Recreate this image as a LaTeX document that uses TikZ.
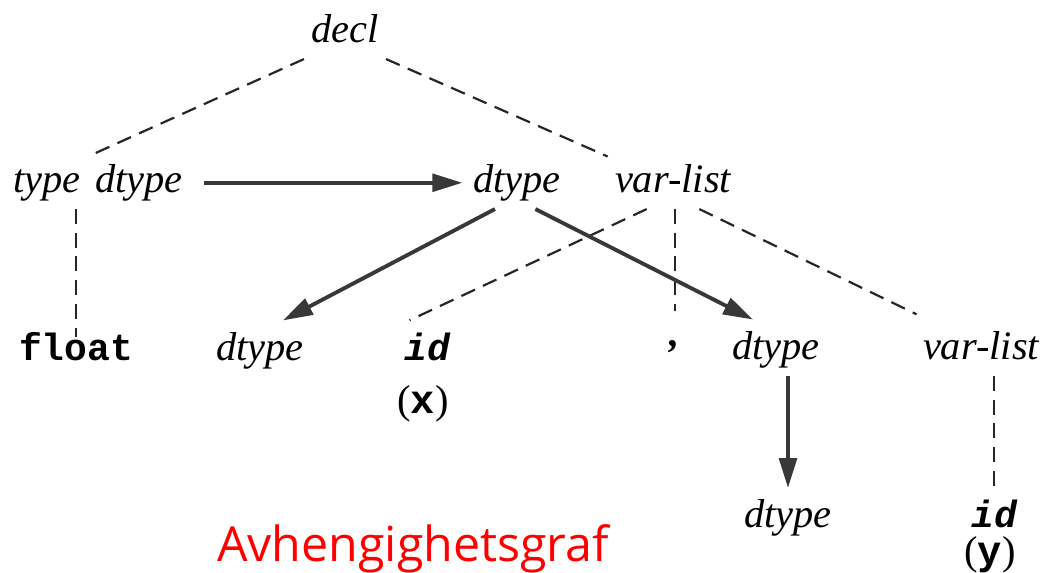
\documentclass[tikz,border=0pt]{standalone}
\usepackage{fontspec}
\setmainfont{Liberation Serif}
\setmonofont{Liberation Mono}
\newfontfamily\labelfont{Open Sans}
\usetikzlibrary{arrows.meta}

\tikzset{
  sym/.style={font=\fontsize{23}{28}\selectfont\itshape, text height=16pt, text depth=5.5pt, inner sep=4pt, anchor=base},
  tok/.style={font=\fontsize{21.6}{26}\selectfont\ttfamily\bfseries, text height=15pt, text depth=5pt, inner sep=4pt, anchor=base},
  val/.style={font=\fontsize{23}{28}\selectfont, inner sep=2pt, anchor=base},
  tree/.style={line width=1.25pt, dash pattern=on 8.5pt off 5pt, black!85},
  dep/.style={line width=2.2pt, black!78, -{Triangle[length=17pt,width=10pt]}}
}

\begin{document}
\begin{tikzpicture}[x=0.02cm,y=-0.02cm]
  \useasboundingbox (0,0) rectangle (1048,572);

  % parse tree
  \node[sym] (decl) at (345,42) {decl};
  \node[sym] (type) at (47,192) {type};
  \node[sym] (dt0) at (139,192) {dtype};
  \node[sym] (dt1) at (517,192) {dtype};
  \node[sym] (vl1) at (673,192) {var-list};
  \node[tok] (float) at (76,360) {float};
  \node[sym] (dt2) at (260,360) {dtype};
  \node[tok] (id1) at (427,360) {\itshape id};
  \node[val] (xval) at (423,413) {({\ttfamily\bfseries x})};
  \node[sym, font=\fontsize{23}{28}\selectfont\itshape\bfseries] (comma) at (675,346) {,};
  \node[sym] (dt3) at (776,359) {dtype};
  \node[sym] (vl2) at (981,359) {var-list};
  \node[sym] (dt4) at (788,527) {dtype};
  \node[tok] (id2) at (994,527) {\itshape id};
  \node[val] (yval) at (990,564) {({\ttfamily\bfseries y})};

  \node[font=\labelfont\fontsize{27.5}{32}\selectfont, text=red, anchor=base] (title) at (413,561) {Avhengighetsgraf};

  % tree edges
  \draw[tree] (decl.south west) -- (dt0.north west);
  \draw[tree] (decl.south east) -- (vl1.north west);
  \draw[tree, shorten >=-6pt] (float.north |- type.south) -- (float.north);
  \draw[tree, shorten >=8pt] (vl1.-135) -- (id1.north west);
  \draw[tree] (comma.north |- vl1.south) -- (comma.north);
  \draw[tree, shorten >=12pt] (vl1.-45) -- (vl2.150);
  \draw[tree, shorten >=4pt] (id2.north |- vl2.south) -- (id2.north);

  % dependencies
  \draw[dep, shorten <=8pt, shorten >=2pt] (dt0) -- (dt1);
  \draw[dep, shorten >=5pt] (dt1.-130) -- (dt2.60);
  \draw[dep, shorten >=5pt] (dt1.-55) -- (dt3.120);
  \draw[dep, shorten >=2pt] (dt4.north |- dt3.south) -- (dt4.north);
\end{tikzpicture}
\end{document}
